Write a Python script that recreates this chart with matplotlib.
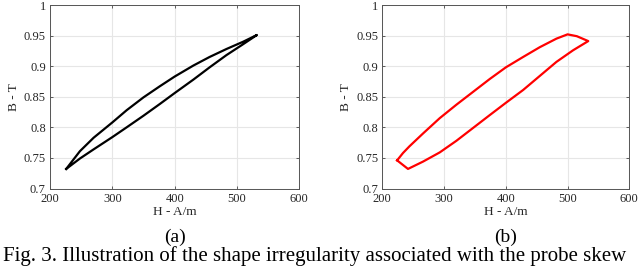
import numpy as np
import matplotlib.pyplot as plt

plt.rcParams['font.family'] = ['Liberation Serif', 'DejaVu Serif']

# loop (a): upper branch out to the tip, lower branch back
h_a = [226, 248, 270, 300, 323, 350, 376, 400, 430, 456, 483, 510, 532,
       510, 483, 456, 430, 400, 376, 350, 323, 300, 270, 248, 226]
b_a = [0.732, 0.761, 0.783, 0.808, 0.828, 0.849, 0.867, 0.883, 0.901, 0.915, 0.928, 0.940, 0.951,
       0.936, 0.918, 0.898, 0.878, 0.856, 0.838, 0.819, 0.800, 0.784, 0.764, 0.749, 0.732]

# loop (b): irregular shape
h_b = [224, 233.5, 244, 266, 293, 320, 347, 374, 400, 428, 455, 482, 500, 515, 533.5,
       509, 482, 455, 428, 400, 374, 347, 320, 293, 266, 241.6, 224]
b_b = [0.746, 0.758, 0.769, 0.790, 0.815, 0.837, 0.858, 0.879, 0.898, 0.915, 0.931, 0.945, 0.952, 0.949, 0.941,
       0.926, 0.907, 0.884, 0.861, 0.840, 0.820, 0.799, 0.778, 0.759, 0.744, 0.732, 0.746]

xticks = [200, 300, 400, 500, 600]
yticks = [0.7, 0.75, 0.8, 0.85, 0.9, 0.95, 1.0]
ylabels = ['0.7', '0.75', '0.8', '0.85', '0.9', '0.95', '1']

W, H = 640, 268
fig = plt.figure(figsize=(6.4, 2.68), dpi=100)
ax1 = fig.add_axes([50/W, 1 - 188.5/H, 249.3/W, 183.5/H])
ax2 = fig.add_axes([382.3/W, 1 - 188.5/H, 247/W, 183.5/H])

for ax, h, b, col, tag in [(ax1, h_a, b_a, 'black', '(a)'), (ax2, h_b, b_b, '#ff0000', '(b)')]:
    ax.plot(h, b, color=col, lw=1.6)
    ax.set_xlim(200, 600)
    ax.set_ylim(0.7, 1.0)
    ax.set_xticks(xticks)
    ax.set_yticks(yticks)
    ax.set_yticklabels(ylabels)
    ax.grid(True, color='#e6e6e6', lw=0.8)
    ax.set_axisbelow(True)
    ax.tick_params(direction='in', length=2.5, width=0.6, labelsize=9, colors='#444444',
                   labelcolor='#262626', pad=3, top=True, right=True)
    for s in ax.spines.values():
        s.set_color('#555555')
        s.set_linewidth(0.7)
    ax.set_xlabel('H - A/m', fontsize=9.5, color='#262626', labelpad=1)
    ax.set_ylabel('B - T', fontsize=9.5, color='#262626', labelpad=3)
    ax.text(0.5, (188.5 - 237) / 183.5, tag, transform=ax.transAxes, ha='center', va='center', fontsize=14)

fig.text(315/W, 1 - 256/H, 'Fig. 3. Illustration of the shape irregularity associated with the probe skew',
         ha='center', va='center', fontsize=15)

fig.savefig('out.png', dpi=100)
